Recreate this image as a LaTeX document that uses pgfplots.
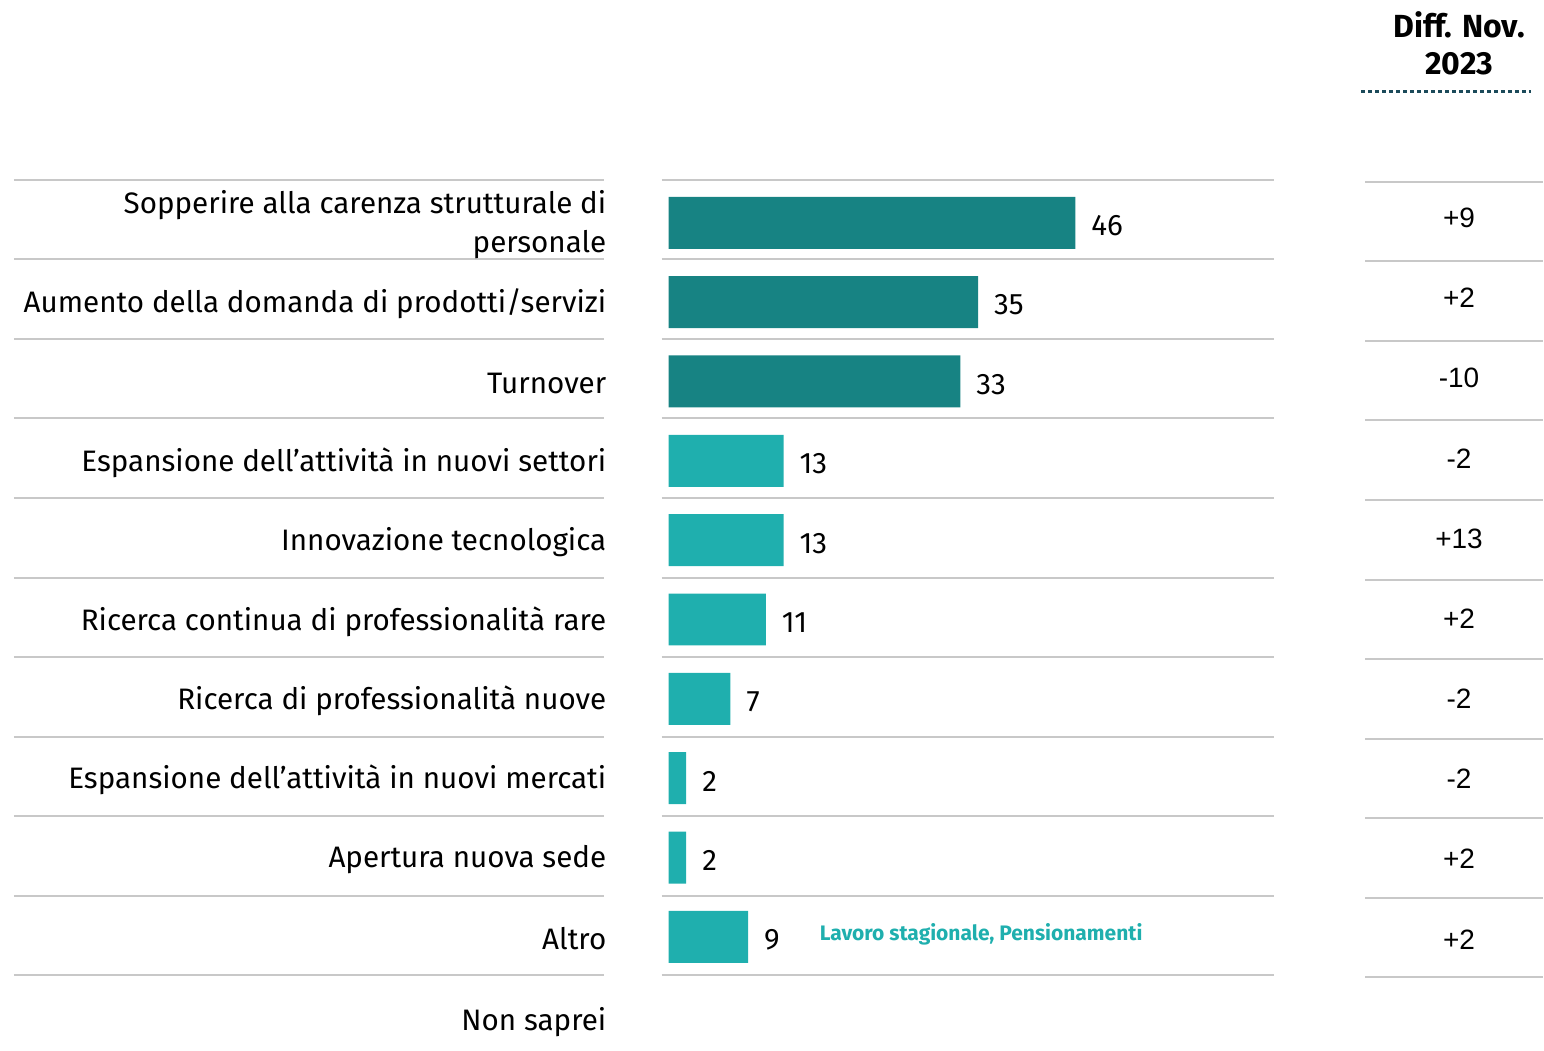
\documentclass[border=0pt]{standalone}
\usepackage{pgfplots}
\pgfplotsset{compat=1.18}
\usepackage{fontspec}
\setmainfont{Fira Sans}
\newfontfamily\arialfont{Liberation Sans}

\definecolor{darkteal}{HTML}{178383}
\definecolor{lightteal}{HTML}{1FAFAE}
\definecolor{rulegray}{HTML}{C8C8C8}
\definecolor{dotblue}{HTML}{1B4A5A}

\newcommand{\lab}{\fontsize{14.8}{19.5}\selectfont}
\newcommand{\diffv}{\arialfont\fontsize{14}{16}\selectfont}
\tikzset{cat/.style={anchor=east, inner sep=0pt, yshift=-1pt, font=\lab}}

\begin{document}
\begin{tikzpicture}
\begin{axis}[
    width=772pt, height=525.5pt,
    scale only axis,
    hide axis,
    clip=false,
    xmin=-75.59, xmax=98.87,
    ymin=-1.808, ymax=11.43,
    y dir=reverse,
    xbar, bar width=26pt, bar shift=0pt,
    nodes near coords,
    /pgf/number format/assume math mode=true,
    every node near coord/.style={anchor=west, xshift=4.5pt, yshift=-1.5pt, font=\lab, text=black},
]
% keep the whole axis box as the page
\path (rel axis cs:0,0) rectangle (rel axis cs:1,1);

% separator rules
\pgfplotsinvokeforeach{0,...,10}{
    \draw[rulegray, line width=1pt] (axis cs:-74.01,0.458+1.0026*#1) -- (axis cs:-7.34,0.458+1.0026*#1);
    \draw[rulegray, line width=1pt] (axis cs:-0.79,0.458+1.0026*#1) -- (axis cs:68.47,0.458+1.0026*#1);
    \draw[rulegray, line width=1pt] (axis cs:78.76,0.483+1.0026*#1) -- (axis cs:98.87,0.483+1.0026*#1);
}

\addplot[draw=none, fill=darkteal] coordinates {(46,1) (35,2) (33,3)};
\addplot[draw=none, fill=lightteal] coordinates {(13,4) (13,5) (11,6) (7,7) (2,8) (2,9) (9,10)};

% category labels
\node[cat, align=right] at (axis cs:-7,1) {Sopperire alla carenza strutturale di\\personale};
\node[cat] at (axis cs:-7,2) {Aumento della domanda di prodotti/servizi};
\node[cat] at (axis cs:-7,3) {Turnover};
\node[cat] at (axis cs:-7,4) {Espansione dell’attività in nuovi settori};
\node[cat] at (axis cs:-7,5) {Innovazione tecnologica};
\node[cat] at (axis cs:-7,6) {Ricerca continua di professionalità rare};
\node[cat] at (axis cs:-7,7) {Ricerca di professionalità nuove};
\node[cat] at (axis cs:-7,8) {Espansione dell’attività in nuovi mercati};
\node[cat] at (axis cs:-7,9) {Apertura nuova sede};
\node[cat] at (axis cs:-7,10) {Altro};
\node[cat] at (axis cs:-7,11.05) {Non saprei};

% annotation
\node[anchor=west, inner sep=0pt, font=\fontsize{10.5}{12}\selectfont\bfseries, text=lightteal] at (axis cs:17.06,9.97) {Lavoro stagionale, Pensionamenti};

% difference column
\node[align=center, font=\fontsize{16}{18.5}\selectfont\bfseries] at (axis cs:89.38,-1.26) {Diff. Nov.\\2023};
\draw[dotblue, line width=1.5pt, dash pattern=on 2pt off 1.5pt] (axis cs:78.3,-0.65) -- (axis cs:97.5,-0.65);
\node[font=\diffv] at (axis cs:89.38,0.94) {+9};
\node[font=\diffv] at (axis cs:89.38,1.95) {+2};
\node[font=\diffv] at (axis cs:89.38,2.96) {-10};
\node[font=\diffv] at (axis cs:89.38,3.97) {-2};
\node[font=\diffv] at (axis cs:89.38,4.98) {+13};
\node[font=\diffv] at (axis cs:89.38,5.99) {+2};
\node[font=\diffv] at (axis cs:89.38,7.0) {-2};
\node[font=\diffv] at (axis cs:89.38,8.01) {-2};
\node[font=\diffv] at (axis cs:89.38,9.02) {+2};
\node[font=\diffv] at (axis cs:89.38,10.03) {+2};
\end{axis}
\end{tikzpicture}
\end{document}
